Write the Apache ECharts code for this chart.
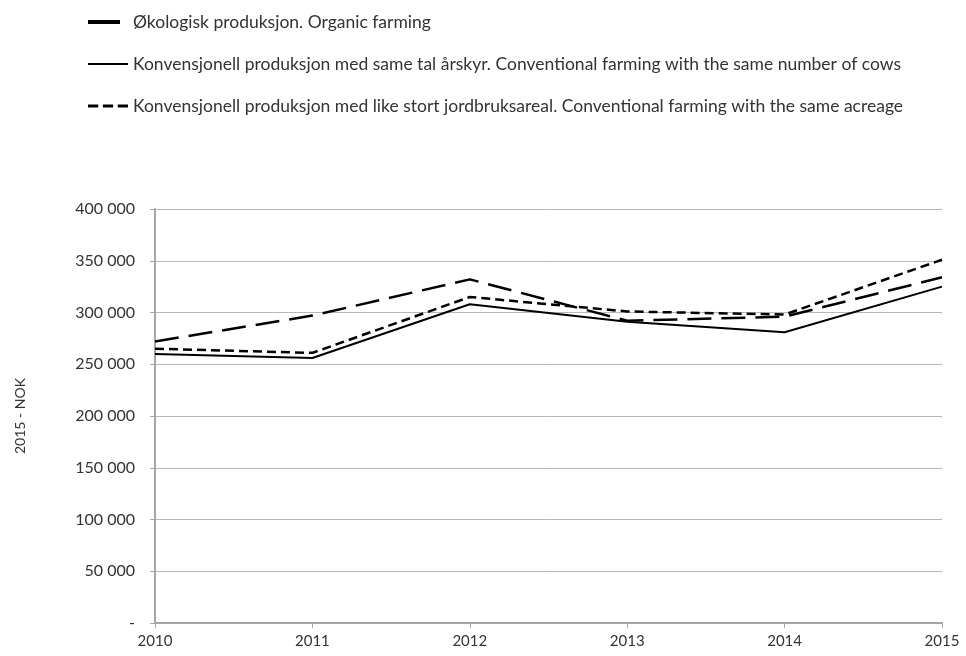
<!DOCTYPE html>
<html>
<head>
<meta charset="utf-8">
<script src="https://cdn.jsdelivr.net/npm/echarts@6/dist/echarts.min.js"></script>
<style>
  html, body { margin: 0; padding: 0; background: #fff; }
  #chart { width: 966px; height: 656px; }
</style>
</head>
<body>
<div id="chart"></div>
<script>
var years = ['2010', '2011', '2012', '2013', '2014', '2015'];
var organic = [272000, 297000, 332000, 292000, 296000, 334000];
var sameCows = [260000, 256000, 308000, 291000, 281000, 325000];
var sameAcreage = [265000, 261000, 315000, 301000, 298000, 351000];
var names = [
    'Økologisk produksjon. Organic farming',
    'Konvensjonell produksjon med same tal årskyr. Conventional farming with the same number of cows',
    'Konvensjonell produksjon med like stort jordbruksareal. Conventional farming with the same acreage'
];

var myChart = echarts.init(document.getElementById('chart'));
var font = 'Lato, "Open Sans", sans-serif';

function fmt(v) {
    if (v === 0) return '-';
    return String(v).replace(/\B(?=(\d{3})+(?!\d))/g, ' ');
}

var dashIcon = 'path://M0,0h11v3h-11z M16,0h11v3h-11z M32,0h11v3h-11z';

option = {
    animation: false,
    textStyle: { fontFamily: font },
    legend: [
        {
            left: 83, top: 8,
            itemWidth: 32, itemHeight: 4,
            textStyle: { color: '#333', fontSize: 17.5, padding: [0, 0, 0, 8] },
            data: [{ name: names[0], icon: 'rect' }]
        },
        {
            left: 83, top: 50,
            itemWidth: 40, itemHeight: 2,
            textStyle: { color: '#333', fontSize: 17.5 },
            data: [{ name: names[1], icon: 'rect' }]
        },
        {
            left: 83, top: 92,
            itemWidth: 40, itemHeight: 3,
            textStyle: { color: '#333', fontSize: 17.5 },
            data: [{ name: names[2], icon: dashIcon }]
        }
    ],
    grid: { left: 155, right: 24, top: 209, bottom: 33 },
    xAxis: {
        type: 'category',
        data: years,
        boundaryGap: false,
        axisLine: { lineStyle: { color: '#a6a6a6', width: 2 } },
        axisTick: { show: true, length: 5, lineStyle: { color: '#a6a6a6' } },
        axisLabel: { color: '#333', fontSize: 15, margin: 11 },
        splitLine: { show: false }
    },
    yAxis: {
        type: 'value',
        min: 0, max: 400000, interval: 50000,
        name: '2015 - NOK',
        nameLocation: 'middle',
        nameGap: 128,
        nameTextStyle: { color: '#333', fontSize: 14 },
        axisLine: { show: true, lineStyle: { color: '#a6a6a6', width: 2 } },
        axisTick: { show: true, length: 5, lineStyle: { color: '#a6a6a6' } },
        axisLabel: { color: '#333', fontSize: 16, margin: 20, formatter: fmt },
        splitLine: { lineStyle: { color: '#b8b8b8', width: 1 } }
    },
    series: [
        {
            name: names[0], type: 'line', data: organic,
            symbol: 'none', color: '#000',
            lineStyle: { color: '#000', width: 2.5, type: [24, 10] }
        },
        {
            name: names[1], type: 'line', data: sameCows,
            symbol: 'none', color: '#000',
            lineStyle: { color: '#000', width: 2 }
        },
        {
            name: names[2], type: 'line', data: sameAcreage,
            symbol: 'none', color: '#000',
            lineStyle: { color: '#000', width: 2.5, type: [9, 5] }
        }
    ]
};

myChart.setOption(option);
</script>
</body>
</html>
